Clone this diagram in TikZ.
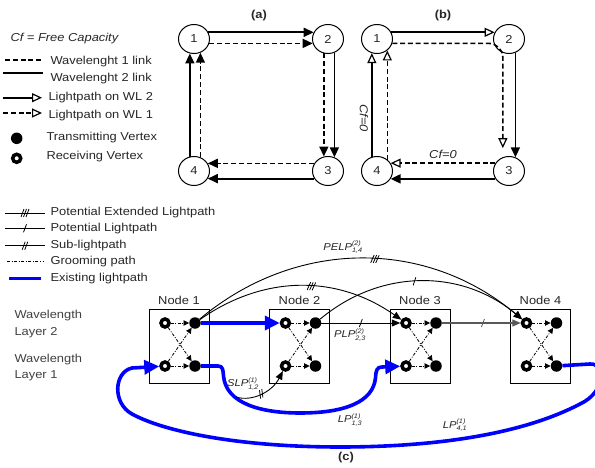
\documentclass[tikz,border=0pt]{standalone}
\usepackage{fontspec}
\setmainfont{Liberation Sans}[FakeStretch=1.12]
\usepackage{tikz}
\usetikzlibrary{arrows.meta,shapes.geometric,decorations.markings}

\newcommand{\lpname}[3]{\textit{#1}$^{\mbox{\fontsize{6.5}{7}\selectfont\itshape #2}}_{\mbox{\fontsize{6.5}{7}\selectfont\itshape #3}}$}

\tikzset{
    vtx/.style={draw, ellipse, minimum width=31pt, minimum height=29pt, inner sep=0pt, line width=1pt},
    wlone/.style={line width=1.6pt, dash pattern=on 5pt off 2.8pt},
    wltwo/.style={line width=1.8pt},
    fulltip/.style={-{Triangle[length=10pt,width=9pt]}},
    opentip/.style={-{Triangle[open,length=10pt,width=9pt,line width=1.2pt]}},
    tx/.style={circle, fill=black, inner sep=0pt, minimum size=11.5pt},
    rx/.style={circle, draw=black, line width=3.5pt, inner sep=0pt, minimum size=8pt},
    groom/.style={line width=0.8pt, dash pattern=on 3pt off 1.6pt on 0.9pt off 1.6pt, -{Triangle[length=5.5pt,width=5.5pt]}},
    lpline/.style={line width=0.9pt},
    thinlp/.style={lpline, -{Triangle[length=8.5pt,width=7pt]}},
    elp/.style={draw=blue, line width=3.6pt, -{Triangle[length=15pt,width=14pt]}},
    slashes/.style 2 args={postaction={decorate}, decoration={markings, mark=at position #1 with {\foreach \s in {#2} {\draw[line width=0.8pt,solid,-] (\s pt,0pt) ++(-1.5pt,-4pt) -- ++(3pt,8pt);}}}},
    bold/.style={font=\fontsize{11.5}{13}\selectfont\bfseries},
    ital/.style={font=\fontsize{11.5}{13}\selectfont\itshape},
    lplab/.style={font=\fontsize{10}{12}\selectfont},
}

\begin{document}
\begin{tikzpicture}[x=1pt,y=-1pt,every node/.style={font=\fontsize{11.5}{13}\selectfont,text=black!85}]
    \useasboundingbox (0,0) rectangle (595,468);
    % legend of (a) and (b)
    \node[ital,anchor=west] (cf) at (7,39) {Cf = Free Capacity};
    \draw[wlone] (5,60) -- (42,60);
    \node[anchor=west] (lg1) at (47,62) {Wavelenght 1 link};
    \draw[wltwo] (3,72.7) -- (43,72.7);
    \node[anchor=west] (lg2) at (47,79) {Wavelenght 2 link};
    \draw[wltwo,opentip] (3,97.7) -- (42,97.7);
    \node[anchor=west] (lg3) at (45,98) {Lightpath on WL 2};
    \draw[wlone,opentip] (3,113) -- (42,113);
    \node[anchor=west] (lg4) at (45,116) {Lightpath on WL 1};
    \node[tx] (lgt) at (16.7,138.3) {};
    \node[anchor=west] (lg5) at (43,138) {Transmitting Vertex};
    \node[rx] (lgr) at (16.7,158.3) {};
    \node[anchor=west] (lg6) at (43,157) {Receiving Vertex};

    % (a)
    \node[vtx] (a1) at (194,39) {1};
    \node[vtx] (a2) at (328,39) {2};
    \node[vtx] (a3) at (328,171) {3};
    \node[vtx] (a4) at (194,171) {4};
    \node[bold] (la) at (259,16) {(a)};
    \draw[wltwo,fulltip] (a1.25) -- (a2.155);
    \draw[wlone,fulltip] (a1.344) -- (a2.196);
    \draw[wlone,fulltip] (a2.254) -- (a3.106);
    \draw[wltwo,fulltip] (a2.295) -- (a3.65);
    \draw[wlone,fulltip] (a3.151) -- (a4.29);
    \draw[wltwo,fulltip] (a3.209) -- (a4.331);
    \draw[wltwo,fulltip] (a4.106) -- (a1.254);
    \draw[wlone,fulltip] (a4.65) -- (a1.295);

    % (b)
    \node[vtx] (b1) at (377,39) {1};
    \node[vtx] (b2) at (509,39) {2};
    \node[vtx] (b3) at (509,171) {3};
    \node[vtx] (b4) at (377,171) {4};
    \node[bold] (lb) at (443,16) {(b)};
    \draw[wltwo,opentip] (b1.25) -- (b2.155);
    \draw[wlone,opentip,rounded corners=14pt,shorten >=9pt] (b1.344) -| (b3.114);
    \draw[wltwo,fulltip] (b2.295) -- (b3.65);
    \draw[wlone,opentip] (b3.150) -- (b4.30) node[ital,midway,above] (cfh) {Cf=0};
    \draw[wltwo,fulltip] (b3.210) -- (b4.330);
    \draw[wltwo,opentip] (b4.110) -- (b1.250);
    \draw[wlone,opentip] (b4.48) -- (b1.312);
    \node[ital,rotate=-90] (cfv) at (364,118) {Cf=0};

    % legend of (c)
    \draw[lpline,slashes={0.5}{-2.5,0,2.5}] (5,213) -- (45,213);
    \node[anchor=west] (lg7) at (47,213) {Potential Extended Lightpath};
    \draw[lpline,slashes={0.5}{0}] (5,228.3) -- (45,228.3);
    \node[anchor=west] (lg8) at (47,228.5) {Potential Lightpath};
    \draw[lpline,slashes={0.5}{-1.3,1.3}] (5,245.7) -- (45,245.7);
    \node[anchor=west] (lg9) at (47,245.5) {Sub-lightpath};
    \draw[groom,-] (7,261) -- (43,261);
    \node[anchor=west] (lg10) at (47,261.5) {Grooming path};
    \draw[elp,-] (9,278.3) -- (41,278.3);
    \node[anchor=west] (lg11) at (47,279) {Existing lightpath};

    \node[anchor=west,align=left,text=black!75,font=\fontsize{11.5}{16.5}\selectfont] (layer2) at (11,324) {Wavelength\\Layer 2};
    \node[anchor=west,align=left,text=black!75,font=\fontsize{11.5}{16.5}\selectfont] (layer1) at (11,367.5) {Wavelength\\Layer 1};

    % (c)
    \foreach \i in {1,...,4} {
        \pgfmathsetmacro\bx{149+120.5*(\i-1)}
        \node[draw,line width=0.8pt,minimum width=60pt,minimum height=74pt] (box\i) at ({\bx+30},346) {};
        \node[anchor=south] (lab\i) at (box\i.north) {Node \i};
        \node[rx] (ru\i) at ({\bx+16},323) {};
        \node[tx] (tu\i) at ({\bx+46},323) {};
        \node[rx] (rl\i) at ({\bx+16},366) {};
        \node[tx] (tl\i) at ({\bx+46},366) {};
        \draw[groom] (ru\i) -- (tu\i);
        \draw[groom] (rl\i) -- (tl\i);
        \draw[groom] (ru\i) -- (tl\i);
        \draw[groom] (rl\i) -- (tu\i);
    }

    \draw[thinlp,slashes={0.54}{-2.5,0,2.5}] (tu1) to[bend left=40] (ru4);
    \draw[thinlp,slashes={0.55}{-2.5,0,2.5}] (tu1) to[bend left=35] (ru3);
    \draw[thinlp,slashes={0.47}{0}] (tu2) to[bend left=40] (ru4);
    \draw[thinlp,slashes={0.5}{0}] (tu2) -- (ru3);
    \draw[thinlp,draw=black!65,line width=1.2pt,slashes={0.52}{0}] (tu3) -- (ru4);
    \node[lplab] (pelp) at (343,247) {\lpname{PELP}{(2)}{1,4}};
    \node[lplab] (plp) at (350,335) {\lpname{PLP}{(2)}{2,3}};

    \draw[elp] (tu1) -- (ru2);
    \draw[elp] (tl1) -- (218,366) .. controls (223,366) and (223,370) .. (223.5,376) .. controls (226,404) and (262,413) .. (300,413) .. controls (345,413) and (373,402) .. (375.5,378) .. controls (376,370) and (377,367) .. (382,367) -- (rl3);
    \draw[elp] (tl4) -- (590,364) .. controls (606,363) and (606,392) .. (580,404) .. controls (515,438) and (420,447) .. (340,447) .. controls (240,447) and (165,432) .. (132,414) .. controls (112,403) and (114,372) .. (132,368) -- (rl1);
    \coordinate (slpfrom) at (236,397);
    \draw[thinlp,slashes={0.45}{-1.3,1.3}] (slpfrom) .. controls (252,402) and (272,392) .. (rl2);
    \node[lplab] (slp) at (243,384) {\lpname{SLP}{(1)}{1,2}};
    \node[lplab] (lp13) at (350,420) {\lpname{LP}{(1)}{1,3}};
    \node[lplab] (lp41) at (455,425) {\lpname{LP}{(1)}{4,1}};
    \node[bold] (lc) at (346,458) {(c)};
\end{tikzpicture}
\end{document}
